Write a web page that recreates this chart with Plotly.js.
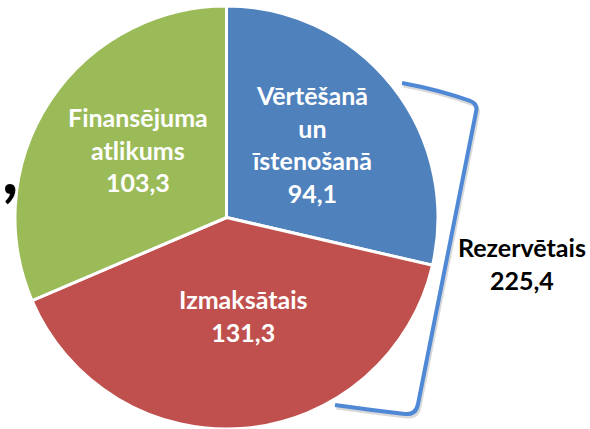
<!DOCTYPE html>
<html>
<head>
<meta charset="utf-8">
<script src="https://cdn.plot.ly/plotly-3.0.1.min.js"></script>
<style>html,body{margin:0;padding:0;background:#fff;}#chart{width:590px;height:429px;}</style>
</head>
<body>
<div id="chart"></div>
<script>
// ---- data ----
const labels = ['Vērtēšanā un īstenošanā', 'Izmaksātais', 'Finansējuma atlikums'];
const labelLines = ['Vērtēšanā<br>un<br>īstenošanā', 'Izmaksātais', 'Finansējuma<br>atlikums'];
const values = [94.1, 131.3, 103.3];
const colors = ['#4f81bd', '#c0504d', '#9bbb59'];
const reservedLabel = 'Rezervētais';
const reservedValue = 225.4;

// ---- layout constants ----
const W = 590, H = 429;
const pieLeft = 15, pieTop = 6, pieSize = 423;
const labelRadius = [0.533, 0.468, 0.529];
const labelAngleShift = [-2.2, -4.5, 4.3];
const FONT = 'Lato, "Open Sans", sans-serif';
const fmt = v => v.toFixed(1).replace('.', ',');

const cx = pieLeft + pieSize / 2, cy = pieTop + pieSize / 2, R = pieSize / 2;
const total = values.reduce((a, b) => a + b, 0);
const annotations = [];
let acc = 0;
values.forEach((v, i) => {
  const mid = (acc + v / 2) / total * 2 * Math.PI + labelAngleShift[i] * Math.PI / 180;
  acc += v;
  const px = cx + labelRadius[i] * R * Math.sin(mid);
  const py = cy - labelRadius[i] * R * Math.cos(mid);
  annotations.push({
    xref: 'paper', yref: 'paper', x: px / W, y: 1 - py / H,
    xanchor: 'center', yanchor: 'middle', showarrow: false,
    text: '<b>' + labelLines[i] + '<br>' + fmt(v) + '</b>',
    font: {family: FONT, size: 25, color: '#ffffff'}
  });
});
annotations.push({
  xref: 'paper', yref: 'paper', x: 522 / W, y: 1 - 263 / H,
  xanchor: 'center', yanchor: 'middle', showarrow: false,
  text: '<b>' + reservedLabel + '<br>' + fmt(reservedValue) + '</b>',
  font: {family: FONT, size: 25, color: '#000000'}
});
annotations.push({
  xref: 'paper', yref: 'paper', x: 0, y: 1 - 167 / H,
  xanchor: 'left', yanchor: 'middle', showarrow: false,
  text: '<b>,</b>', font: {family: FONT, size: 70, color: '#000000'}
});

function bracketPath(dx, dy) {
  const P = (x, y) => ((x + dx) / W).toFixed(4) + ',' + (1 - (y + dy) / H).toFixed(4);
  return 'M' + P(402, 83) + ' Q' + P(440, 90) + ' ' + P(470, 101) +
    ' Q' + P(478, 104) + ' ' + P(476, 112) + ' L' + P(418, 404) +
    ' Q' + P(416, 415) + ' ' + P(405, 414) + ' Q' + P(370, 410) + ' ' + P(335, 405);
}

const trace = {
  type: 'pie', labels: labels, values: values, sort: false,
  direction: 'clockwise', rotation: 0, textinfo: 'none', hoverinfo: 'label+value',
  marker: {colors: colors, line: {color: '#ffffff', width: 3}},
  domain: {x: [pieLeft / W, (pieLeft + pieSize) / W], y: [1 - (pieTop + pieSize) / H, 1 - pieTop / H]}
};

Plotly.newPlot('chart', [trace], {
  width: W, height: H, margin: {l: 0, r: 0, t: 0, b: 0},
  paper_bgcolor: '#ffffff', showlegend: false,
  annotations: annotations,
  shapes: [
    {type: 'path', xref: 'paper', yref: 'paper', path: bracketPath(1.5, 2.5),
      line: {color: 'rgba(0,0,0,0.15)', width: 4}},
    {type: 'path', xref: 'paper', yref: 'paper', path: bracketPath(0, 0),
      line: {color: '#4f89d6', width: 4}}
  ]
}, {displayModeBar: false, staticPlot: true});
</script>
</body>
</html>
